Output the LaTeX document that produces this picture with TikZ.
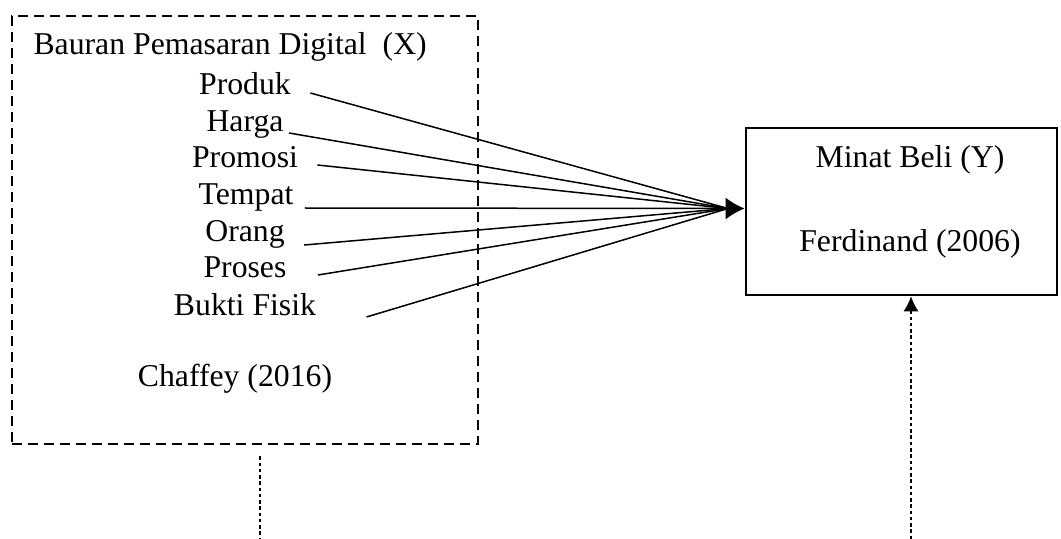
\documentclass[tikz,border=0pt]{standalone}
\usepackage{fontspec}
\setmainfont{Liberation Serif}
\usetikzlibrary{arrows.meta,calc}

\begin{document}
\begin{tikzpicture}[x=0.4pt,y=-0.4pt]
    % --- 设置全局样式 ---
    % 文字样式
    \tikzset{TextStyle/.style = {
        inner sep=0pt,          % 无内边距
        anchor=base,            % 以基线定位
        font=\fontsize{12.7}{15}\selectfont
    }}
    % 虚线框样式
    \tikzset{DashBoxStyle/.style = {
        draw=black,
        line width=1pt,         % 边框粗细
        dash pattern=on 4pt off 2.4pt,
        minimum width=186.4pt,
        minimum height=171.2pt
    }}
    % 实线框样式
    \tikzset{BoxStyle/.style = {
        draw=black,
        line width=1.1pt,
        minimum width=124.4pt,
        minimum height=66.8pt
    }}
    % 连线样式
    \tikzset{EdgeStyle/.style = {
        line width=0.6pt,
        color=black
    }}
    % 点线样式
    \tikzset{DotStyle/.style = {
        line width=0.45pt,
        dash pattern=on 1.4pt off 1.1pt
    }}

    \useasboundingbox (0,0) rectangle (1061,539);

    % --- 定义框 ---
    \node[DashBoxStyle] (X) at (245,230) {};
    \node[BoxStyle] (Y) at (901.5,211.5) {};

    % --- 定义文字 ---
    \node[TextStyle, anchor=base west] (title) at (33,55) {Bauran Pemasaran Digital\ \ (X)};
    \node[TextStyle] (prod) at (245,95)  {Produk};
    \node[TextStyle] (harga) at (245,132) {Harga};
    \node[TextStyle] (promo) at (245,168) {Promosi};
    \node[TextStyle] (tempat) at (246,205) {Tempat};
    \node[TextStyle] (orang) at (245,242) {Orang};
    \node[TextStyle] (proses) at (245,278) {Proses};
    \node[TextStyle] (bukti) at (245,315) {Bukti Fisik};
    \node[TextStyle] (chaffey) at (235,387) {Chaffey (2016)};

    \node[TextStyle] (minat) at (910,168) {Minat Beli (Y)};
    \node[TextStyle] (ferd) at (910,251) {Ferdinand (2006)};

    % 汇聚点
    \coordinate (conv) at (728,208.5);

    % --- 定义连线 ---
    \draw[EdgeStyle] ($(prod.base east)+(19,-2)$) -- (conv);   % Produk
    \draw[EdgeStyle] ($(harga.base east)+(5,1)$) -- (conv);    % Harga
    \draw[EdgeStyle] ($(promo.base east)+(19,-3)$) -- (conv);  % Promosi
    \draw[EdgeStyle] ($(tempat.base east)+(11,3)$) -- (conv);  % Tempat
    \draw[EdgeStyle] ($(orang.base east)+(19,3)$) -- (conv);   % Orang
    \draw[EdgeStyle] ($(proses.base east)+(31,-3)$) -- (conv); % Proses
    \draw[EdgeStyle] ($(bukti.base east)+(50,2)$) -- (conv);   % Bukti Fisik
    \draw[EdgeStyle, -{Latex[length=7.6pt,width=8.8pt]}] (conv) -- (conv -| Y.west);

    % 下方点线
    \coordinate (xend) at (260,539);
    \coordinate (yend) at (911,539);
    \draw[DotStyle] ($(X.south -| xend)+(0,11)$) -- (xend);
    \draw[DotStyle, -{Latex[length=6pt,width=6pt]}] (yend) -- (yend |- Y.south);

\end{tikzpicture}
\end{document}
